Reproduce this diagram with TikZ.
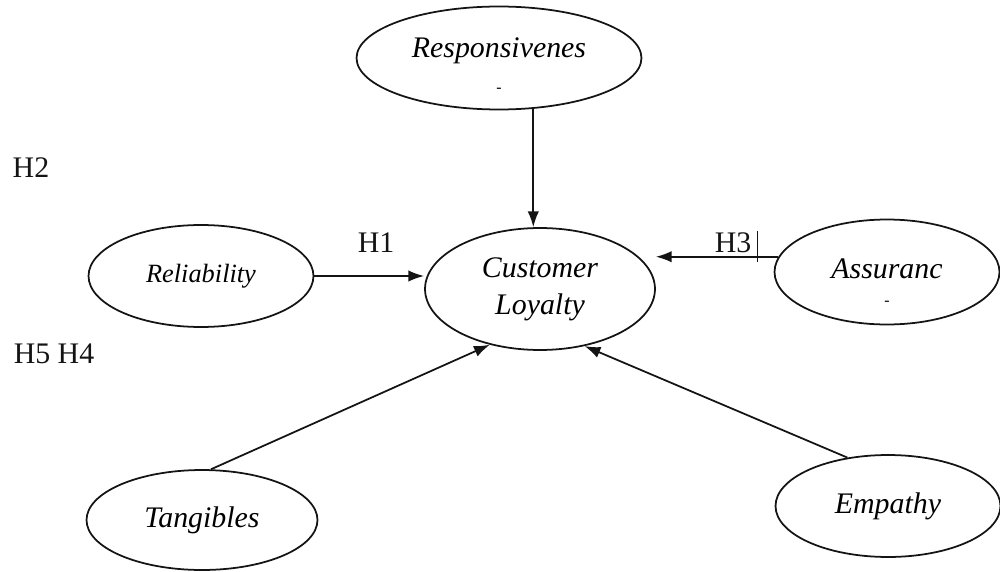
\documentclass[tikz,border=0pt]{standalone}
\usepackage{fontspec}
\setmainfont{Liberation Serif}
\usepackage{tikz}
\usetikzlibrary{
  shapes.geometric,
  arrows.meta,
  calc
}
\definecolor{inkblack}{RGB}{20,20,20}
\tikzset{
  construct/.style={
    ellipse, draw=inkblack, line width=1.0pt,
    minimum width=4.5cm, minimum height=2.04cm,
    align=center, inner sep=0pt,
    font=\fontsize{17}{21}\selectfont\itshape
  },
  hyplabel/.style={
    font=\fontsize{17}{20}\selectfont, text=inkblack,
    inner sep=1pt
  },
  patharrow/.style={
    -{Latex[length=9pt,width=6.5pt]},
    draw=inkblack, line width=1.0pt
  },
}
\begin{document}
\begin{tikzpicture}[x=0.02cm, y=-0.02cm]

  \useasboundingbox (0,0) rectangle (1000,571);

  %% Constructs
  \node[construct, minimum width=5.7cm, minimum height=2.06cm,
    text height=39pt] (resp) at (499,58)
    {Responsivenes\\[-1pt]{\upshape\small -}};
  \node[construct, minimum width=4.6cm, minimum height=2.44cm] (cl) at (540,289)
    {Customer\\Loyalty};
  \node[construct, font=\fontsize{15}{18}\selectfont\itshape] (rel) at (201,276)
    {Reliability};
  \node[construct, minimum height=2.1cm, text height=37.7pt] (as) at (887,272)
    {Assuranc\\[-6pt]{\upshape\small -}};
  \node[construct, minimum width=4.62cm, minimum height=2.0cm] (tan) at (202,520)
    {Tangibles};
  \node[construct] (emp) at (888,506)
    {Empathy};

  %% Hypothesis labels
  \node[hyplabel] (h2) at (31,168) {H2};
  \node[hyplabel] (h1) at (376,243) {H1};
  \node[hyplabel] (h3) at (733,243) {H3};
  \node[hyplabel] (h54) at (54,354) {H5 H4};
  \draw[inkblack, line width=0.4pt]
    ([xshift=2pt]h3.north east) -- ([xshift=2pt,yshift=-4pt]h3.south east);

  %% Paths
  \draw[patharrow] (resp.-56) -- (resp.-56 |- cl.north);
  \draw[patharrow] (rel.east) -- (rel.east -| cl.west);
  \draw[patharrow] (as.172) -- (as.172 -| cl.east);
  \draw[patharrow] (tan.80) -- (cl.228);
  \draw[patharrow] (emp.130) -- (cl.-52);

\end{tikzpicture}
\end{document}
